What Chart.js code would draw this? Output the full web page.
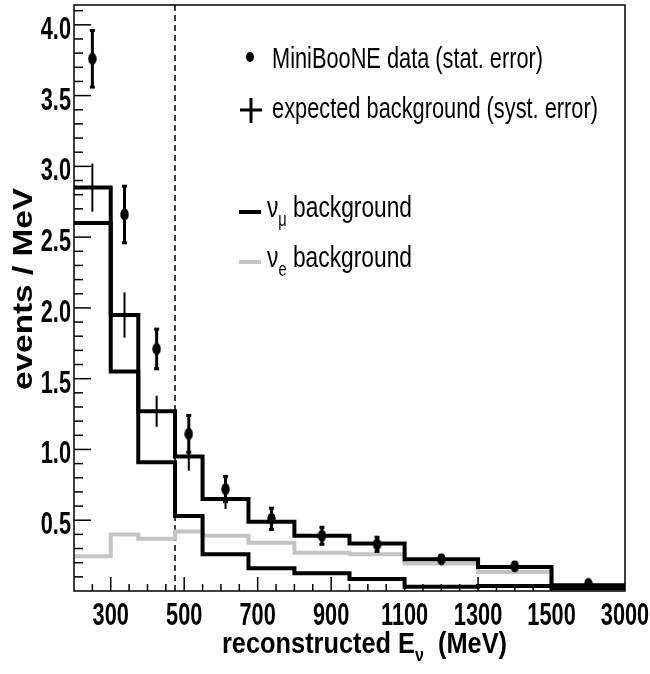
<!DOCTYPE html>
<html>
<head>
<meta charset="utf-8">
<script src="https://cdn.jsdelivr.net/npm/chart.js@4.4.1/dist/chart.umd.min.js"></script>
<style>
  html, body { margin: 0; padding: 0; background: #fff; }
  #wrap { width: 650px; height: 674px; }
</style>
</head>
<body>
<div id="wrap"><canvas id="c"></canvas></div>
<script>
// bin edges (MeV)
const binEdges = [200, 300, 375, 475, 550, 675, 800, 950, 1100, 1300, 1500, 3000];
// MiniBooNE data, bin centres, stat. errors
const dataE = [250, 337.5, 425, 512.5, 612.5, 737.5, 875, 1025, 1200, 1400, 2250];
const dataVal = [3.76, 2.66, 1.71, 1.11, 0.72, 0.51, 0.39, 0.33, 0.225, 0.175, 0.05];
const dataErr = [0.2, 0.2, 0.14, 0.13, 0.09, 0.075, 0.06, 0.05, 0.025, 0.025, 0.012];
// expected background and syst. errors
const bgTotal = [2.85, 1.95, 1.27, 0.95, 0.65, 0.49, 0.39, 0.335, 0.225, 0.17, 0.04];
const bgErr = [0.17, 0.16, 0.11, 0.1, 0.07, 0.06, 0.05, 0.04, 0.03, 0.025, 0.01];
const numuBg = [2.6, 1.55, 0.91, 0.53, 0.26, 0.16, 0.125, 0.085, 0.03, 0.035, 0.02];
const nueBg = [0.245, 0.4, 0.37, 0.42, 0.39, 0.34, 0.27, 0.26, 0.195, 0.135, 0.02];
const cutE = 475;
const xTicks = [300, 500, 700, 900, 1100, 1300, 1500, 3000];
const yTicks = [0.5, 1.0, 1.5, 2.0, 2.5, 3.0, 3.5, 4.0];
const yMax = 4.14;

// axis is linear up to 1500 MeV, the last bin (1500-3000) is squeezed
function toAxis(E) {
  return E <= 1500 ? E : 1500 + (E - 1500) * 200 / 1500;
}

function steps(vals) {
  const pts = vals.map((v, i) => ({ x: toAxis(binEdges[i]), y: v }));
  pts.push({ x: toAxis(binEdges[binEdges.length - 1]), y: vals[vals.length - 1] });
  return pts;
}

function binCentre(i) {
  return toAxis((binEdges[i] + binEdges[i + 1]) / 2);
}

// slightly tall oval marker like the ROOT one
const marker = document.createElement("canvas");
marker.width = 9;
marker.height = 13;
{
  const m = marker.getContext("2d");
  m.fillStyle = "#000";
  m.beginPath();
  m.ellipse(4.5, 6.5, 4.2, 6, 0, 0, Math.PI * 2);
  m.fill();
}

// draw a run of text pieces, squeezed/stretched horizontally
function drawRun(ctx, parts, x, y, opt) {
  ctx.save();
  let w = 0;
  parts.forEach((p) => { ctx.font = p.font; w += ctx.measureText(p.t).width; });
  const sx = opt.width ? opt.width / w : opt.sx || 1;
  ctx.translate(x, y);
  if (opt.rotate) ctx.rotate(opt.rotate);
  ctx.scale(sx, opt.sy || 1);
  let cx = opt.align === "center" ? -w / 2 : opt.align === "right" ? -w : 0;
  ctx.textBaseline = "alphabetic";
  ctx.textAlign = "left";
  ctx.fillStyle = opt.color || "#000";
  parts.forEach((p) => {
    ctx.font = p.font;
    ctx.fillText(p.t, cx, p.dy || 0);
    cx += ctx.measureText(p.t).width;
  });
  ctx.restore();
}

const LAB = 'bold 29px "Liberation Sans", Arial, sans-serif';
const LEG = '28px "Liberation Sans", Arial, sans-serif';
const LEGSUB = '18px "Liberation Sans", Arial, sans-serif';
const TIT = 'bold 27px "Liberation Sans", Arial, sans-serif';
const TITSUB = 'bold 17px "Liberation Sans", Arial, sans-serif';

const decor = {
  id: "decor",
  afterDatasetsDraw(chart) {
    const { ctx, chartArea: a, scales: { x, y } } = chart;
    ctx.save();
    ctx.strokeStyle = "#000";
    ctx.fillStyle = "#000";

    // syst. error bars of expected background
    ctx.lineWidth = 2;
    bgTotal.forEach((v, i) => {
      const px = x.getPixelForValue(binCentre(i));
      ctx.beginPath();
      ctx.moveTo(px, y.getPixelForValue(v - bgErr[i]));
      ctx.lineTo(px, y.getPixelForValue(v + bgErr[i]));
      ctx.stroke();
    });

    // stat. error bars of data
    ctx.lineWidth = 3;
    dataVal.forEach((v, i) => {
      const px = x.getPixelForValue(toAxis(dataE[i]));
      const t = y.getPixelForValue(v + dataErr[i]);
      const b = y.getPixelForValue(v - dataErr[i]);
      ctx.beginPath();
      ctx.moveTo(px, t);
      ctx.lineTo(px, b);
      ctx.stroke();
      ctx.fillRect(px - 2.5, t - 1.5, 5, 3);
      ctx.fillRect(px - 2.5, b - 1.5, 5, 3);
    });

    // inward ticks
    ctx.lineWidth = 1.5;
    for (let k = 1; k <= 41; k++) {
      const py = y.getPixelForValue(k / 10);
      const len = k % 5 === 0 ? 17 : 9;
      ctx.beginPath();
      ctx.moveTo(a.left, py);
      ctx.lineTo(a.left + len, py);
      ctx.stroke();
    }
    for (let E = 250; E <= 1500; E += 50) {
      const px = x.getPixelForValue(toAxis(E));
      const len = (E - 300) % 200 === 0 ? 14 : 7;
      ctx.beginPath();
      ctx.moveTo(px, a.bottom);
      ctx.lineTo(px, a.bottom - len);
      ctx.stroke();
    }

    // frame
    ctx.strokeRect(a.left, a.top, a.right - a.left, a.bottom - a.top);
    ctx.restore();

    // tick labels (ROOT fonts look tall and narrow)
    xTicks.forEach((E) => {
      drawRun(ctx, [{ t: String(E), font: LAB }], x.getPixelForValue(toAxis(E)), a.bottom + 34, { sx: 0.75, sy: 1.08, align: "center" });
    });
    yTicks.forEach((v) => {
      drawRun(ctx, [{ t: v.toFixed(1), font: LAB }], a.left - 3, y.getPixelForValue(v) + 14, { sx: 0.75, sy: 1.05, align: "right" });
    });

    // axis titles
    drawRun(ctx, [
      { t: "reconstructed E", font: TIT },
      { t: "\u03bd", font: TITSUB, dy: 7 },
      { t: "  (MeV)", font: TIT },
    ], 222, 653, { width: 285, sy: 1.08 });
    drawRun(ctx, [{ t: "events / MeV", font: TIT }], 32, 289, { width: 202, align: "center", rotate: -Math.PI / 2 });

    // legend
    ctx.save();
    ctx.fillStyle = "#000";
    ctx.beginPath();
    ctx.ellipse(250, 57, 4, 5, 0, 0, Math.PI * 2);
    ctx.fill();
    ctx.strokeStyle = "#000";
    ctx.lineWidth = 3;
    ctx.beginPath();
    ctx.moveTo(240, 110); ctx.lineTo(262, 110);
    ctx.moveTo(251, 98); ctx.lineTo(251, 123);
    ctx.stroke();
    ctx.lineWidth = 4;
    ctx.beginPath();
    ctx.moveTo(239, 212); ctx.lineTo(261, 212);
    ctx.stroke();
    ctx.strokeStyle = "#c4c4c4";
    ctx.beginPath();
    ctx.moveTo(239, 262); ctx.lineTo(261, 262);
    ctx.stroke();
    ctx.restore();

    drawRun(ctx, [{ t: "MiniBooNE data (stat. error)", font: LEG }], 272, 68, { width: 271, sy: 1.08 });
    drawRun(ctx, [{ t: "expected background (syst. error)", font: LEG }], 272, 118, { width: 326, sy: 1.08 });
    drawRun(ctx, [
      { t: "\u03bd", font: LEG },
      { t: "\u03bc", font: LEGSUB, dy: 8 },
      { t: " background", font: LEG },
    ], 267, 217, { width: 145, sy: 1.08 });
    drawRun(ctx, [
      { t: "\u03bd", font: LEG },
      { t: "e", font: LEGSUB, dy: 8 },
      { t: " background", font: LEG },
    ], 267, 267, { width: 145, sy: 1.08 });
  },
};

new Chart(document.getElementById("c"), {
  type: "line",
  data: {
    datasets: [
      {
        type: "scatter",
        label: "MiniBooNE data (stat. error)",
        data: dataE.map((E, i) => ({ x: toAxis(E), y: dataVal[i] })),
        pointStyle: marker,
        order: 0,
      },
      {
        label: "expected background (syst. error)",
        data: steps(bgTotal),
        stepped: "before",
        borderColor: "#000",
        borderWidth: 4,
        pointRadius: 0,
        order: 1,
      },
      {
        label: "numu background",
        data: steps(numuBg),
        stepped: "before",
        borderColor: "#000",
        borderWidth: 4,
        pointRadius: 0,
        order: 2,
      },
      {
        label: "nue background",
        data: steps(nueBg),
        stepped: "before",
        borderColor: "#c4c4c4",
        borderWidth: 4,
        pointRadius: 0,
        order: 3,
      },
      {
        label: "cut",
        data: [{ x: toAxis(cutE), y: 0 }, { x: toAxis(cutE), y: yMax }],
        borderColor: "#000",
        borderWidth: 1.5,
        borderDash: [6, 4],
        pointRadius: 0,
        order: 4,
      },
    ],
  },
  options: {
    responsive: true,
    maintainAspectRatio: false,
    animation: false,
    layout: { padding: { left: 74, top: 2, right: 25, bottom: 83 } },
    plugins: { legend: { display: false }, tooltip: { enabled: false } },
    scales: {
      x: { type: "linear", min: 200, max: 1700, display: false },
      y: { type: "linear", min: 0, max: yMax, display: false },
    },
  },
  plugins: [decor],
});
</script>
</body>
</html>
